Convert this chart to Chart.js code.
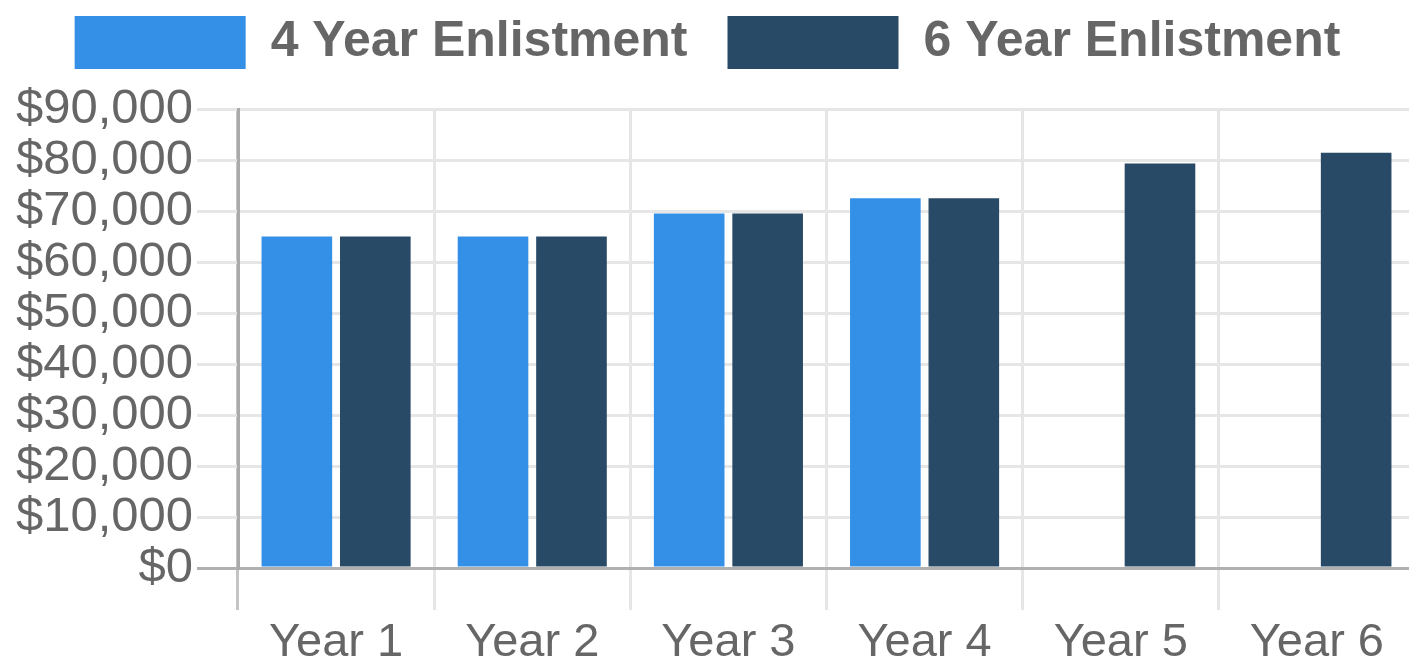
<!DOCTYPE html>
<html>
<head>
<meta charset="utf-8">
<script src="https://cdn.jsdelivr.net/npm/chart.js@4/dist/chart.umd.min.js"></script>
<style>
  html, body { margin: 0; padding: 0; background: #ffffff; overflow: hidden; }
  #wrap { position: relative; width: 1415px; height: 662px; }
</style>
</head>
<body>
<div id="wrap"><canvas id="c"></canvas></div>
<script>
const categories = ['Year 1', 'Year 2', 'Year 3', 'Year 4', 'Year 5', 'Year 6'];
const seriesNames = ['4 Year Enlistment', '6 Year Enlistment'];
const fourYear = [65000, 65000, 69500, 72500, null, null];
const sixYear = [65000, 65000, 69500, 72500, 79300, 81400];
const yMin = 0;
const yMax = 90000;
const yStep = 10000;

const FONT = "'Liberation Sans', Arial, Helvetica, sans-serif";
const TEXT = '#666666';
const GRID = '#e6e6e6';
const AXIS = '#b0b0b0';

const legendSpacer = {
  id: 'legendSpacer',
  afterInit(chart) {
    const lg = chart.legend;
    const origFit = lg.fit;
    lg.fit = function () {
      origFit.call(this);
      this.height = 109;
    };
  },
  afterLayout(chart) {
    const lg = chart.legend;
    lg.top -= 24;
    lg.bottom -= 24;
  }
};

new Chart(document.getElementById('c'), {
  type: 'bar',
  data: {
    labels: categories,
    datasets: [
      { label: seriesNames[0], data: fourYear, backgroundColor: '#3490e6', borderWidth: 0 },
      { label: seriesNames[1], data: sixYear, backgroundColor: '#284a66', borderWidth: 0 }
    ]
  },
  options: {
    responsive: true,
    maintainAspectRatio: false,
    animation: false,
    layout: { padding: 0 },
    plugins: {
      tooltip: { enabled: false },
      legend: {
        position: 'top',
        labels: {
          color: TEXT,
          boxWidth: 171,
          boxHeight: 53,
          padding: 40,
          font: { family: FONT, size: 50, weight: 'bold' }
        }
      }
    },
    scales: {
      x: {
        offset: true,
        afterFit: s => { s.height = 94; },
        grid: {
          offset: true,
          drawTicks: true,
          tickLength: 42,
          lineWidth: 3,
          color: ctx => ctx.index === 0 ? '#c4c4c4' : GRID
        },
        border: { display: true, color: AXIS, width: 3 },
        ticks: {
          color: TEXT,
          padding: 12,
          autoSkip: false,
          maxRotation: 0,
          font: { family: FONT, size: 47, lineHeight: 0.9 }
        }
      },
      y: {
        min: yMin,
        max: yMax,
        afterFit: s => { s.width = 238; },
        grid: {
          drawTicks: true,
          tickLength: 41,
          lineWidth: 3,
          color: ctx => ctx.index === 0 ? AXIS : GRID
        },
        border: { display: true, color: '#aaaaaa', width: 3 },
        ticks: {
          stepSize: yStep,
          autoSkip: false,
          color: TEXT,
          padding: 4,
          font: { family: FONT, size: 49 },
          callback: v => '$' + Number(v).toLocaleString('en-US')
        }
      }
    }
  },
  plugins: [legendSpacer]
});
</script>
</body>
</html>
